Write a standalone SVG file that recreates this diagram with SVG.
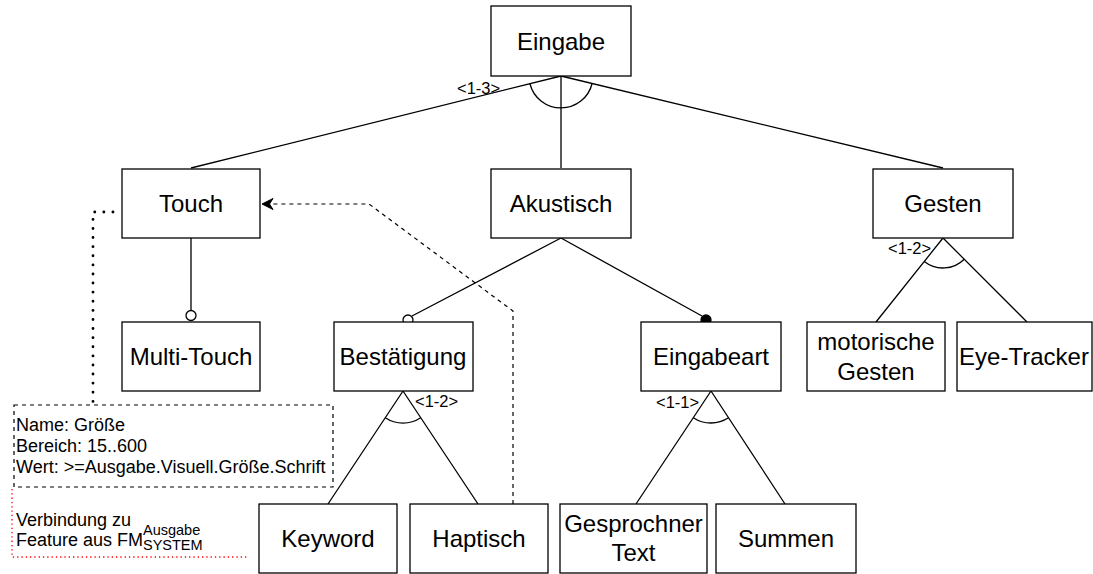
<svg xmlns="http://www.w3.org/2000/svg" width="1093" height="574" viewBox="0 0 1093 574">
  <defs>
    <style>
      .box { fill: #ffffff; stroke: #000000; stroke-width: 1.3; }
      .lbl { font-family: "Liberation Sans", Arial, sans-serif; font-size: 24px; fill: #000000; text-anchor: middle; }
      .card { font-family: "Liberation Sans", Arial, sans-serif; font-size: 16.5px; fill: #000000; }
      .note { font-family: "Liberation Sans", Arial, sans-serif; font-size: 18px; fill: #000000; }
      .small { font-family: "Liberation Sans", Arial, sans-serif; font-size: 14.5px; fill: #000000; }
      .edge { fill: none; stroke: #000000; stroke-width: 1.3; }
      .dash { fill: none; stroke: #000000; stroke-width: 1.2; stroke-dasharray: 4 4; }
    </style>
  </defs>
  <rect width="1093" height="574" fill="#ffffff"/>

  <!-- connectors -->
  <g id="connectors">
    <!-- Eingabe: or-group <1-3> -->
    <path class="edge" d="M561 76 L191 168 M561 76 L561 168 M561 76 L943 168"/>
    <path class="edge" d="M529.95 83.72 A32 32 0 0 0 592.1 83.5"/>
    <!-- Touch -> Multi-Touch (optional) -->
    <path class="edge" d="M191 238 L191 310"/>
    <circle cx="191" cy="315.5" r="5" fill="#ffffff" stroke="#000000" stroke-width="1.3"/>
    <!-- Akustisch -> Bestaetigung (optional), Eingabeart (mandatory) -->
    <path class="edge" d="M561 238 L412 316 M561 238 L702 316"/>
    <circle cx="408" cy="320" r="5" fill="#ffffff" stroke="#000000" stroke-width="1.3"/>
    <circle cx="706" cy="320" r="5" fill="#000000" stroke="#000000" stroke-width="1.3"/>
    <!-- Gesten: or-group <1-2> -->
    <path class="edge" d="M943 238 L876 322 M943 238 L1027 322"/>
    <path class="edge" d="M924.3 261.5 A30 30 0 0 0 964.2 259.2"/>
    <!-- Bestaetigung: or-group <1-2> -->
    <path class="edge" d="M403 391 L328 504 M403 391 L478 504"/>
    <path class="edge" d="M385.3 417.7 A32 32 0 0 0 420.7 417.7"/>
    <!-- Eingabeart: alternative <1-1> -->
    <path class="edge" d="M711 391 L636 504 M711 391 L785 504"/>
    <path class="edge" d="M693.3 417.7 A32 32 0 0 0 728.5 417.8"/>
    <!-- cross-tree dependency Haptisch -> Touch -->
    <path class="dash" d="M513 504 L513 311 L369 204 L268 204"/>
    <path d="M262 204 L273 198.5 L269.5 204 L273 209.5 Z" fill="#000000" stroke="#000000" stroke-width="1"/>
    <!-- attribute link Touch -> attribute card -->
    <path d="M113 212 L93 212 L93 404" fill="none" stroke="#000000" stroke-width="2.8" stroke-linecap="round" stroke-dasharray="0.1 9"/>
  </g>

  <!-- cardinality labels -->
  <text class="card" x="457" y="93.5">&lt;1-3&gt;</text>
  <text class="card" x="888" y="253.5">&lt;1-2&gt;</text>
  <text class="card" x="415" y="406.5">&lt;1-2&gt;</text>
  <text class="card" x="656" y="407.5">&lt;1-1&gt;</text>

  <g id="node-eingabe">
    <rect class="box" x="491" y="6" width="140" height="70"/>
    <text class="lbl" x="561" y="49.5">Eingabe</text>
  </g>
  <g id="node-touch">
    <rect class="box" x="122" y="169" width="138" height="69"/>
    <text class="lbl" x="191" y="212">Touch</text>
  </g>
  <g id="node-akustisch">
    <rect class="box" x="491" y="169" width="140" height="69"/>
    <text class="lbl" x="561" y="212">Akustisch</text>
  </g>
  <g id="node-gesten">
    <rect class="box" x="873" y="169" width="140" height="69"/>
    <text class="lbl" x="943" y="212">Gesten</text>
  </g>
  <g id="node-multitouch">
    <rect class="box" x="122" y="322" width="138" height="69"/>
    <text class="lbl" x="191" y="365">Multi-Touch</text>
  </g>
  <g id="node-bestaetigung">
    <rect class="box" x="334" y="322" width="139" height="69"/>
    <text class="lbl" x="403" y="365">Bestätigung</text>
  </g>
  <g id="node-eingabeart">
    <rect class="box" x="641" y="322" width="140" height="69"/>
    <text class="lbl" x="711" y="365">Eingabeart</text>
  </g>
  <g id="node-motorische-gesten">
    <rect class="box" x="807" y="322" width="138" height="69"/>
    <text class="lbl" x="876" y="350">motorische</text>
    <text class="lbl" x="876" y="380">Gesten</text>
  </g>
  <g id="node-eye-tracker">
    <rect class="box" x="957" y="322" width="135" height="69"/>
    <text class="lbl" x="1024" y="365">Eye-Tracker</text>
  </g>
  <g id="node-keyword">
    <rect class="box" x="259" y="504" width="138" height="69"/>
    <text class="lbl" x="328" y="547">Keyword</text>
  </g>
  <g id="node-haptisch">
    <rect class="box" x="410" y="504" width="138" height="69"/>
    <text class="lbl" x="479" y="547">Haptisch</text>
  </g>
  <g id="node-gesprochner-text">
    <rect class="box" x="560" y="504" width="147" height="69"/>
    <text class="lbl" x="633.5" y="532">Gesprochner</text>
    <text class="lbl" x="633.5" y="561">Text</text>
  </g>
  <g id="node-summen">
    <rect class="box" x="716" y="504" width="140" height="69"/>
    <text class="lbl" x="786" y="547">Summen</text>
  </g>

  <!-- attribute card of Touch -->
  <g id="node-attribute">
    <rect x="14" y="405" width="319" height="82" fill="#ffffff" stroke="#000000" stroke-width="1.2" stroke-dasharray="4 4"/>
    <text class="note" x="16" y="431">Name: Größe</text>
    <text class="note" x="16" y="452">Bereich: 15..600</text>
    <text class="note" x="16" y="473">Wert: &gt;=Ausgabe.Visuell.Größe.Schrift</text>
  </g>

  <!-- note on the external feature model link -->
  <g id="node-verbindung">
    <path d="M12 489 L12 557 L247 557" fill="none" stroke="#ff0000" stroke-width="1.3" stroke-dasharray="1.3 3"/>
    <text class="note" x="16" y="526">Verbindung zu</text>
    <text class="note" x="16" y="546">Feature aus FM</text>
    <text class="small" x="143" y="535">Ausgabe</text>
    <text class="small" x="143" y="550">SYSTEM</text>
  </g>
</svg>
